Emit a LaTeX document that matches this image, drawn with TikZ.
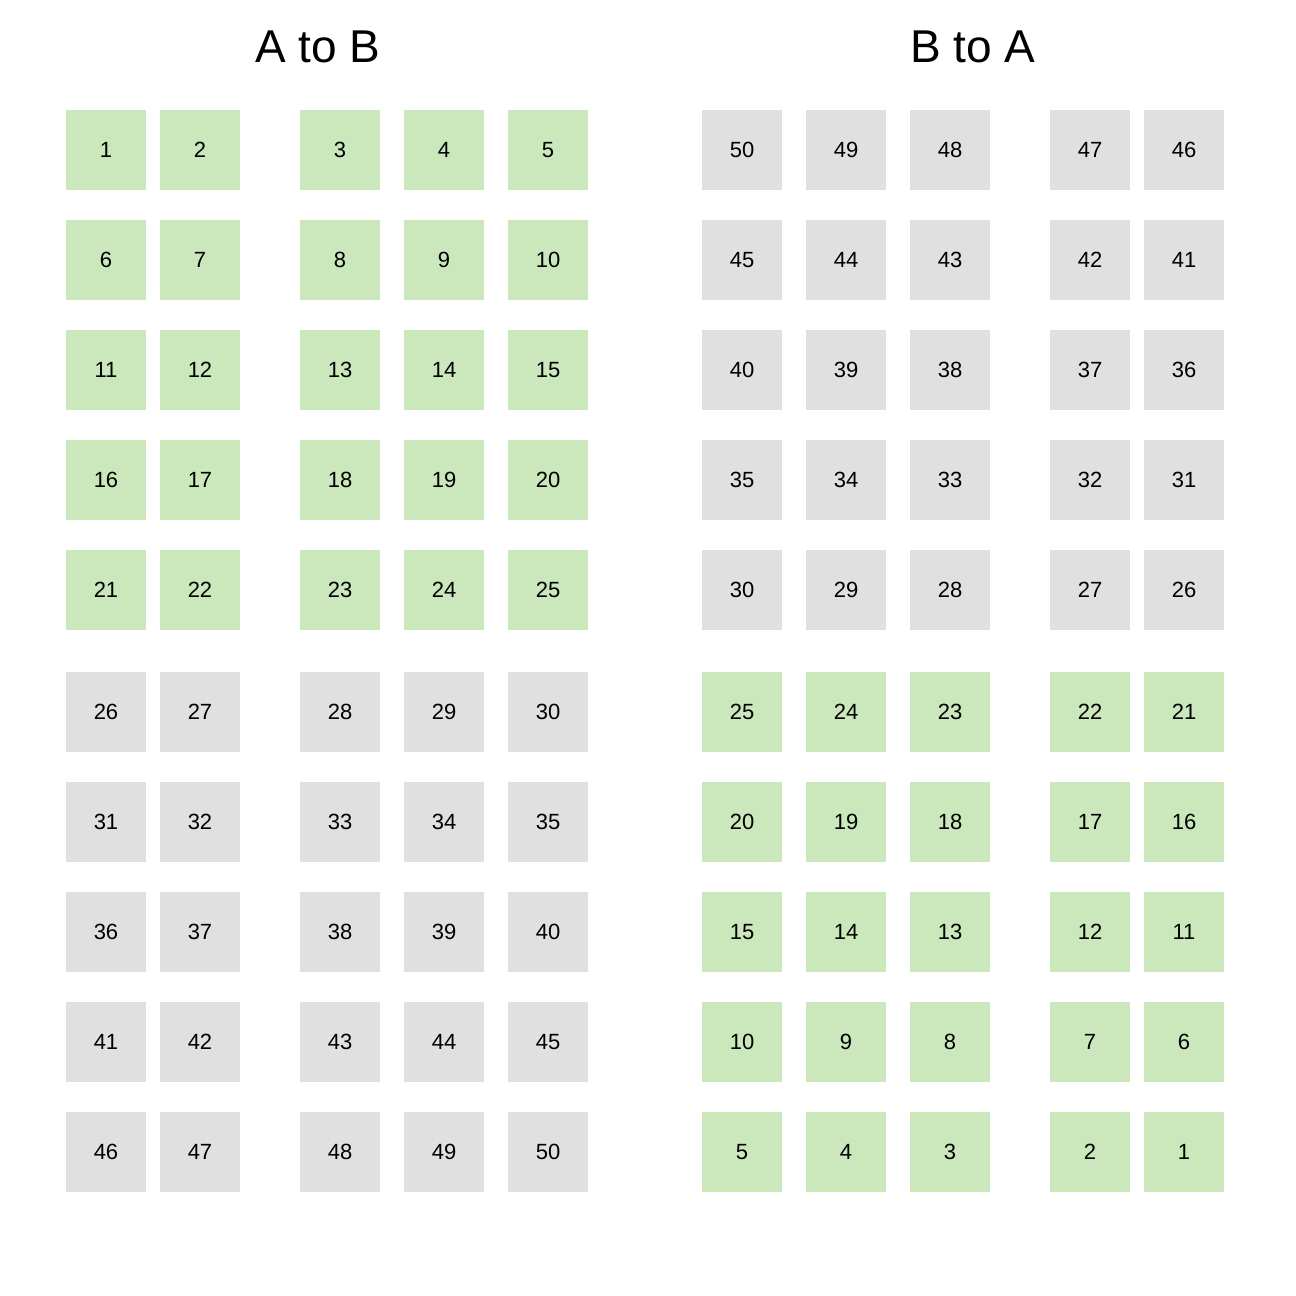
\documentclass[tikz,border=0pt]{standalone}
\usepackage{fontspec}
\setmainfont{Liberation Sans}
\definecolor{gfill}{RGB}{203,231,188}
\definecolor{nfill}{RGB}{224,224,224}
\begin{document}
\begin{tikzpicture}[x=0.5pt,y=-0.5pt,
  cell/.style={minimum width=40pt, minimum height=40pt, inner sep=0pt, draw=none, font=\fontsize{11}{13}\selectfont},
  title/.style={font=\fontsize{23}{27}\selectfont, inner sep=0pt}]
\useasboundingbox (0,0) rectangle (1296,1296);
\fill[white] (0,0) rectangle (1296,1296);
\node[title] (ta) at (318,47) {A to B};
\node[title] (tb) at (973,47) {B to A};
\foreach \r in {0,...,9}{
  \foreach \c/\xl/\xr in {1/106/742, 2/200/846, 3/340/950, 4/444/1090, 5/548/1184}{
    \pgfmathtruncatemacro{\n}{\r*5+\c}
    \pgfmathtruncatemacro{\m}{51-\n}
    \pgfmathsetmacro{\yy}{\r<5 ? 150+110*\r : 712+110*(\r-5)}
    \ifnum\n<26 \def\lf{gfill}\else\def\lf{nfill}\fi
    \ifnum\m<26 \def\rf{gfill}\else\def\rf{nfill}\fi
    \node[cell, fill=\lf] (a\n) at (\xl,\yy) {\n};
    \node[cell, fill=\rf] (b\m) at (\xr,\yy) {\m};
  }
}
\end{tikzpicture}
\end{document}
